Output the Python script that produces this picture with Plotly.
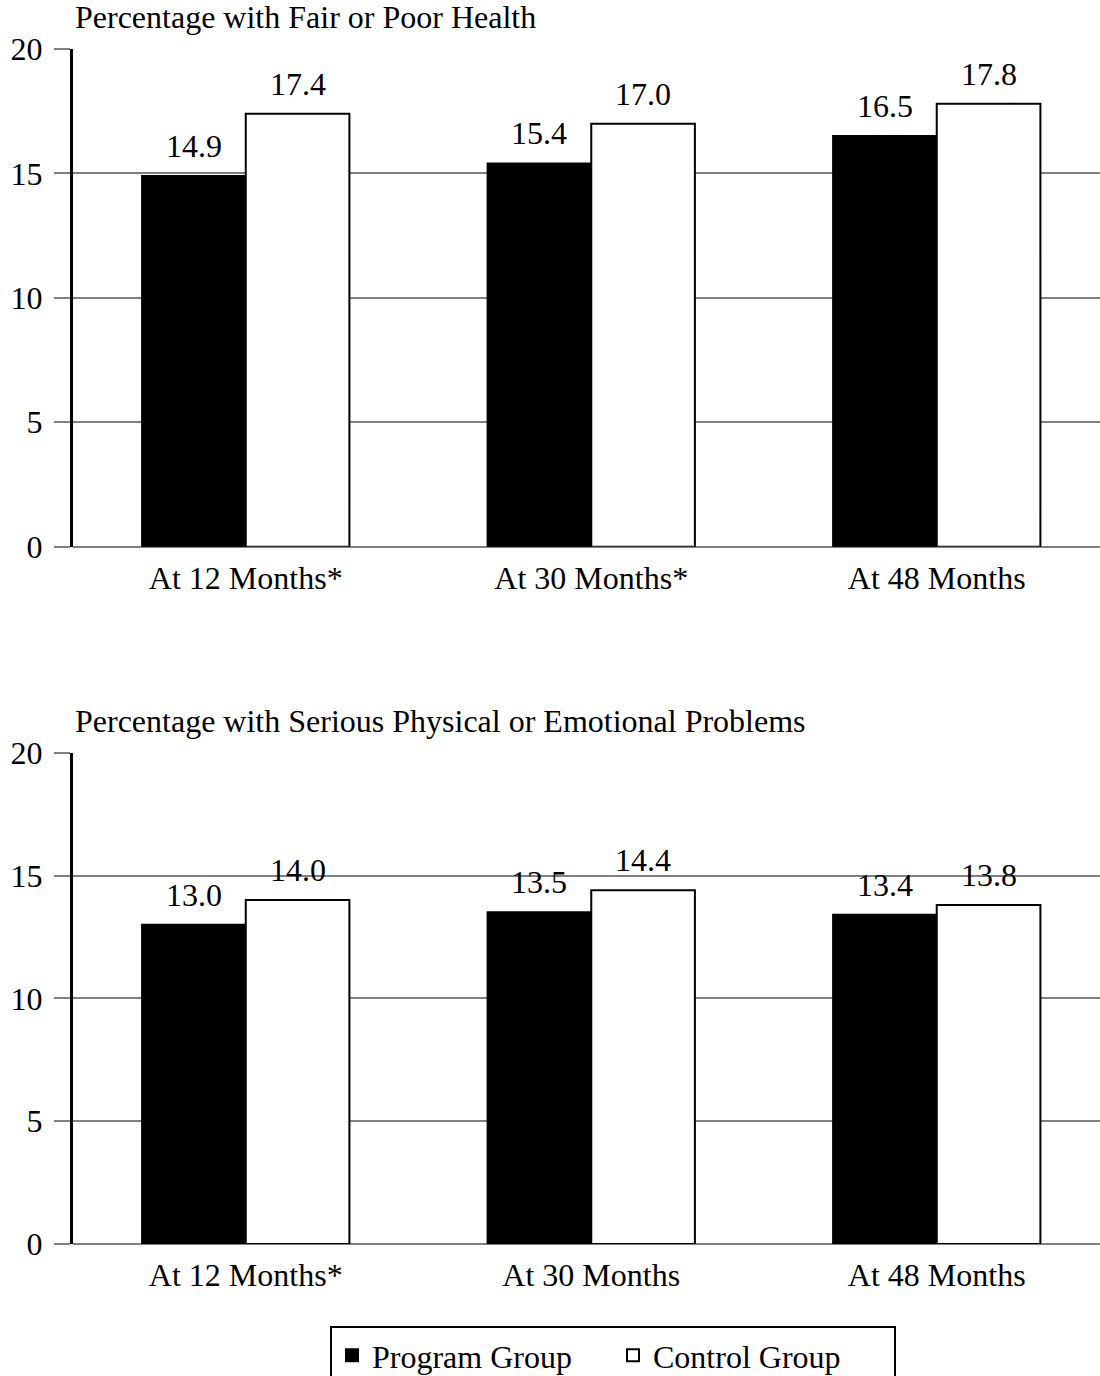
import plotly.graph_objects as go

# ---- data ----
categories_top = ["At 12 Months*", "At 30 Months*", "At 48 Months"]
program_top = [14.9, 15.4, 16.5]
control_top = [17.4, 17.0, 17.8]

categories_bottom = ["At 12 Months*", "At 30 Months", "At 48 Months"]
program_bottom = [13.0, 13.5, 13.4]
control_bottom = [14.0, 14.4, 13.8]

title_top = "Percentage with Fair or Poor Health"
title_bottom = "Percentage with Serious Physical or Emotional Problems"
series_names = ["Program Group", "Control Group"]
y_ticks = [0, 5, 10, 15, 20]

FONT = "Liberation Serif, Times New Roman, serif"
FS = 32
W, H = 1100, 1376
positions = list(range(3))

fig = go.Figure()

def add_panel(prog, ctrl, xa, ya, show):
    fig.add_trace(go.Bar(x=positions, y=prog, name=series_names[0],
                         marker=dict(color="black", line=dict(color="black", width=2)),
                         xaxis=xa, yaxis=ya, showlegend=show, legendgroup="p"))
    fig.add_trace(go.Bar(x=positions, y=ctrl, name=series_names[1],
                         marker=dict(color="white", line=dict(color="black", width=2)),
                         xaxis=xa, yaxis=ya, showlegend=show, legendgroup="c"))
    half = 0.15
    for i, (p, c) in enumerate(zip(prog, ctrl)):
        for xv, v in ((i - half, p), (i + half, c)):
            fig.add_annotation(x=xv, y=v, xref=xa, yref=ya, text=f"{v:.1f}",
                               showarrow=False, yanchor="bottom", yshift=10,
                               font=dict(family=FONT, size=FS, color="black"))

add_panel(program_top, control_top, "x", "y", True)
add_panel(program_bottom, control_bottom, "x2", "y2", False)

def px_to_paper(py):
    return 1 - py / H

xrange_ = [-0.5, 2.4725]
common_x = dict(range=xrange_, tickvals=positions, showgrid=False, zeroline=False,
                showline=False, ticks="", ticklabelstandoff=9,
                tickfont=dict(family=FONT, size=FS, color="black"), fixedrange=True)
common_y = dict(range=[0, 20], tickvals=y_ticks, showgrid=True, gridcolor="#808080",
                gridwidth=1.5, zeroline=True, zerolinecolor="#808080", zerolinewidth=1.5,
                showline=True, linecolor="black", linewidth=3,
                ticks="outside", ticklen=16, tickcolor="#808080", tickwidth=1.5,
                ticklabelstandoff=5,
                tickfont=dict(family=FONT, size=FS, color="black"), fixedrange=True)

fig.update_layout(
    width=W, height=H,
    margin=dict(l=73, r=0, t=0, b=0, autoexpand=False),
    paper_bgcolor="white", plot_bgcolor="white",
    barmode="group", bargap=0.4, bargroupgap=0,
    font=dict(family=FONT, size=FS, color="black"),
    xaxis=dict(**common_x, ticktext=categories_top, anchor="y"),
    xaxis2=dict(**common_x, ticktext=categories_bottom, anchor="y2"),
    yaxis=dict(**common_y, domain=[px_to_paper(546.7), px_to_paper(49)], anchor="x"),
    yaxis2=dict(**common_y, domain=[px_to_paper(1244), px_to_paper(752.7)], anchor="x2"),
    legend=dict(orientation="h", xref="container", yref="container",
                x=330 / W, xanchor="left", y=px_to_paper(1326), yanchor="top",
                bordercolor="black", borderwidth=2, bgcolor="white",
                font=dict(family=FONT, size=FS, color="black"),
                entrywidth=236, entrywidthmode="pixels", traceorder="normal"),
    showlegend=True,
)

fig.add_annotation(x=0, y=px_to_paper(37), xref="paper", yref="paper",
                   xanchor="left", yanchor="bottom", text=title_top, showarrow=False,
                   font=dict(family=FONT, size=FS, color="black"))
fig.add_annotation(x=0, y=px_to_paper(741), xref="paper", yref="paper",
                   xanchor="left", yanchor="bottom", text=title_bottom, showarrow=False,
                   font=dict(family=FONT, size=FS, color="black"))

fig.write_html("out.html", config={"displayModeBar": False},
               post_script="document.body.style.margin='0px';")
